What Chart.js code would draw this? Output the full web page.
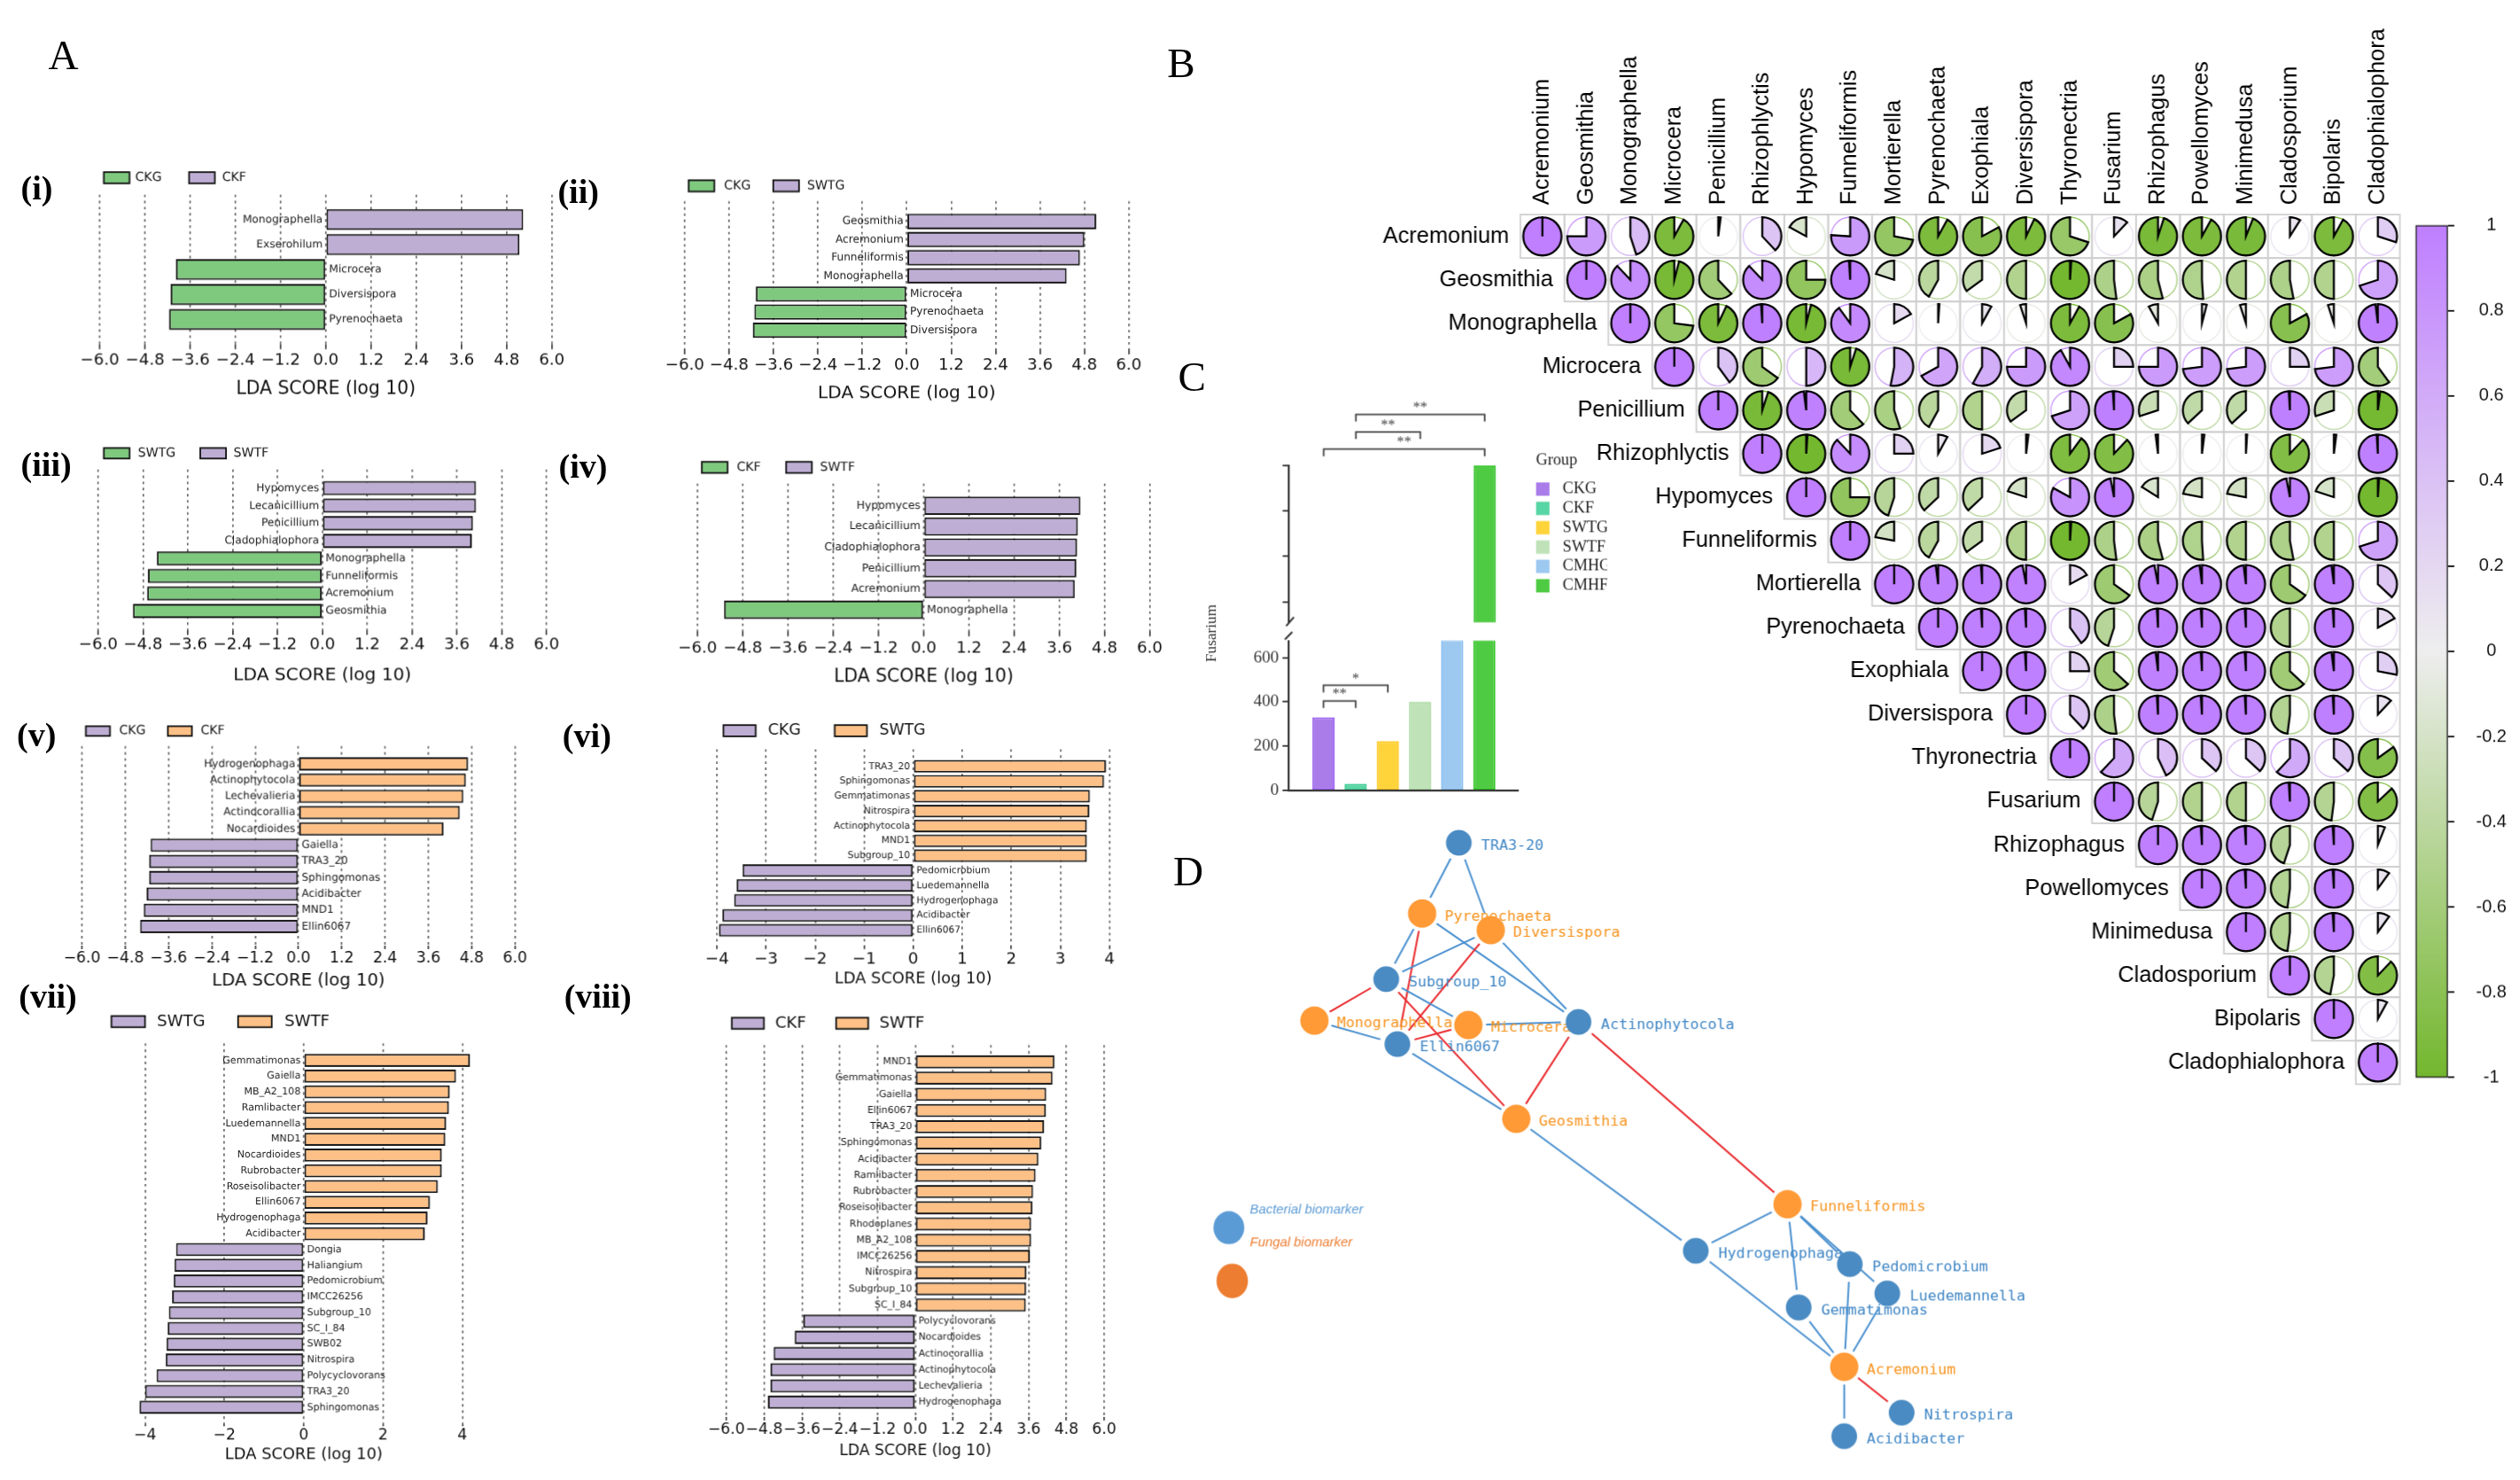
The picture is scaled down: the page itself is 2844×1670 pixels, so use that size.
<!DOCTYPE html>
<html>
<head>
<meta charset="utf-8">
<title>Biomarkers figure</title>
<script src="https://cdn.jsdelivr.net/npm/chart.js@4.4.1/dist/chart.umd.min.js"></script>
<style>
  html, body { margin: 0; padding: 0; background: #fff; overflow: hidden; }
  body { width: 2844px; height: 1670px; }
  #page { position: absolute; left: 0; top: 0; width: 1568px; height: 921px; transform-origin: 0 0; }
  .lbl { position: absolute; white-space: nowrap; line-height: 1; color: #000; font-family: 'Liberation Serif', serif; }
</style>
</head>
<body>
<div id="page"></div>
<script>
const SCALE = 2844 / 1568;

// ---------- A: LDA scores (negative = first group, positive = second group) ----------
const taxaA1 = ['Monographella', 'Exserohilum', 'Microcera', 'Diversispora', 'Pyrenochaeta'];
const scoreA1 = [5.24, 5.14, -3.98, -4.12, -4.16];
const groupA1 = ['CKG', 'CKF'];

const taxaA2 = ['Geosmithia', 'Acremonium', 'Funneliformis', 'Monographella', 'Microcera', 'Pyrenochaeta', 'Diversispora'];
const scoreA2 = [5.12, 4.80, 4.68, 4.32, -4.08, -4.12, -4.16];
const groupA2 = ['CKG', 'SWTG'];

const taxaA3 = ['Hypomyces', 'Lecanicillium', 'Penicillium', 'Cladophialophora', 'Monographella', 'Funneliformis', 'Acremonium', 'Geosmithia'];
const scoreA3 = [4.11, 4.11, 4.03, 4.00, -4.43, -4.67, -4.69, -5.07];
const groupA3 = ['SWTG', 'SWTF'];

const taxaA4 = ['Hypomyces', 'Lecanicillium', 'Cladophialophora', 'Penicillium', 'Acremonium', 'Monographella'];
const scoreA4 = [4.16, 4.09, 4.07, 4.05, 4.01, -5.30];
const groupA4 = ['CKF', 'SWTF'];

const taxaA5 = ['Hydrogenophaga', 'Actinophytocola', 'Lechevalieria', 'Actinocorallia', 'Nocardioides', 'Gaiella', 'TRA3_20', 'Sphingomonas', 'Acidibacter', 'MND1', 'Ellin6067'];
const scoreA5 = [4.70, 4.64, 4.57, 4.47, 4.02, -4.10, -4.14, -4.14, -4.21, -4.29, -4.39];
const groupA5 = ['CKG', 'CKF'];

const taxaA6 = ['TRA3_20', 'Sphingomonas', 'Gemmatimonas', 'Nitrospira', 'Actinophytocola', 'MND1', 'Subgroup_10', 'Pedomicrobium', 'Luedemannella', 'Hydrogenophaga', 'Acidibacter', 'Ellin6067'];
const scoreA6 = [3.93, 3.89, 3.60, 3.59, 3.54, 3.54, 3.54, -3.48, -3.60, -3.65, -3.89, -3.96];
const groupA6 = ['CKG', 'SWTG'];

const taxaA7 = ['Gemmatimonas', 'Gaiella', 'MB_A2_108', 'Ramlibacter', 'Luedemannella', 'MND1', 'Nocardioides', 'Rubrobacter', 'Roseisolibacter', 'Ellin6067', 'Hydrogenophaga', 'Acidibacter',
                'Dongia', 'Haliangium', 'Pedomicrobium', 'IMCC26256', 'Subgroup_10', 'SC_I_84', 'SWB02', 'Nitrospira', 'Polycyclovorans', 'TRA3_20', 'Sphingomonas'];
const scoreA7 = [4.19, 3.84, 3.68, 3.66, 3.59, 3.57, 3.48, 3.48, 3.38, 3.18, 3.12, 3.05,
                 -3.22, -3.26, -3.28, -3.32, -3.40, -3.43, -3.46, -3.48, -3.71, -4.00, -4.14];
const groupA7 = ['SWTG', 'SWTF'];

const taxaA8 = ['MND1', 'Gemmatimonas', 'Gaiella', 'Ellin6067', 'TRA3_20', 'Sphingomonas', 'Acidibacter', 'Ramlibacter', 'Rubrobacter', 'Roseisolibacter', 'Rhodoplanes', 'MB_A2_108',
                'IMCC26256', 'Nitrospira', 'Subgroup_10', 'SC_I_84', 'Polycyclovorans', 'Nocardioides', 'Actinocorallia', 'Actinophytocola', 'Lechevalieria', 'Hydrogenophaga'];
const scoreA8 = [4.42, 4.36, 4.16, 4.15, 4.09, 4.00, 3.91, 3.82, 3.74, 3.72, 3.68, 3.68,
                 3.64, 3.53, 3.52, 3.51, -3.56, -3.83, -4.50, -4.60, -4.60, -4.68];
const groupA8 = ['CKF', 'SWTF'];

const ticksA = [-6, -4.8, -3.6, -2.4, -1.2, 0, 1.2, 2.4, 3.6, 4.8, 6];
const ticksA6 = [-4, -3, -2, -1, 0, 1, 2, 3, 4];
const ticksA7 = [-4, -2, 0, 2, 4];

// ---------- B: correlation matrix (upper triangle, row by row from the diagonal) ----------
const corrTaxa = ['Acremonium', 'Geosmithia', 'Monographella', 'Microcera', 'Penicillium', 'Rhizophlyctis', 'Hypomyces', 'Funneliformis', 'Mortierella', 'Pyrenochaeta',
                  'Exophiala', 'Diversispora', 'Thyronectria', 'Fusarium', 'Rhizophagus', 'Powellomyces', 'Minimedusa', 'Cladosporium', 'Bipolaris', 'Cladophialophora'];
const corrRows = [
  [1, 0.75, 0.45, -0.92, 0.02, 0.38, -0.17, 0.76, -0.72, -0.92, -0.83, -0.93, -0.70, 0.12, -0.95, -0.92, -0.94, 0.09, -0.92, 0.30],
  [1, 0.88, -0.96, -0.62, 0.88, -0.75, 0.99, -0.20, -0.42, -0.35, -0.50, -0.99, -0.52, -0.54, -0.51, -0.50, -0.53, -0.50, 0.70],
  [1, -0.73, -0.93, 0.99, -0.96, 0.90, 0.17, 0.01, 0.08, -0.05, -0.92, -0.83, -0.08, 0.04, -0.05, -0.83, -0.05, 0.98],
  [1, 0.40, -0.65, 0.50, -0.95, 0.53, 0.67, 0.58, 0.75, 0.92, 0.25, 0.75, 0.73, 0.73, 0.25, 0.73, -0.60],
  [1, -0.95, 0.98, -0.62, -0.55, -0.42, -0.50, -0.35, 0.70, 0.99, -0.30, -0.37, -0.37, 0.99, -0.30, -0.98],
  [1, -0.99, 0.88, 0.25, 0.08, 0.20, 0.02, -0.90, -0.88, -0.02, 0.02, 0.01, -0.88, 0.02, 0.99],
  [1, -0.75, -0.45, -0.37, -0.37, -0.20, 0.83, 0.97, -0.16, -0.22, -0.22, 0.97, -0.20, -0.99],
  [1, -0.22, -0.42, -0.35, -0.50, -0.99, -0.52, -0.54, -0.51, -0.50, -0.53, -0.50, 0.70],
  [1, 0.98, 0.99, 0.97, 0.17, -0.65, 0.97, 0.98, 0.98, -0.65, 0.98, 0.37],
  [1, 0.99, 0.99, 0.40, -0.45, 0.99, 0.99, 0.99, -0.50, 0.99, 0.17],
  [1, 0.99, 0.25, -0.63, 0.98, 0.99, 0.99, -0.63, 0.98, 0.28],
  [1, 0.38, -0.52, 0.99, 0.99, 0.99, -0.48, 0.99, 0.12],
  [1, 0.62, 0.43, 0.37, 0.37, 0.62, 0.37, -0.85],
  [1, -0.45, -0.50, -0.50, 0.99, -0.48, -0.87],
  [1, 0.99, 0.99, -0.45, 0.99, 0.06],
  [1, 0.99, -0.48, 0.99, 0.10],
  [1, -0.48, 0.99, 0.10],
  [1, -0.47, -0.88],
  [1, 0.08],
  [1]
];
const colorbarTicks = [-1, -0.8, -0.6, -0.4, -0.2, 0, 0.2, 0.4, 0.6, 0.8, 1];

// ---------- C: Fusarium abundance (broken axis) ----------
const fusGroups = ['CKG', 'CKF', 'SWTG', 'SWTF', 'CMHG', 'CMHF'];
const fusValues = [330, 30, 223, 400, 680, 3500];
const fusTicksLow = [0, 200, 400, 600];
const fusTicksHigh = [1100, 1900, 2700, 3500];
const fusSigPairs = [[0, 1], [0, 2], [0, 4], [0, 5], [1, 3], [1, 5]];
const fusSigMarks = ['**', '*', '*', '**', '**', '**'];
const fusSigLevel = [404, 475, 1020, 3790, 4092, 4400];

// ---------- D: co-occurrence network ----------
const netNames = ['TRA3-20', 'Pyrenochaeta', 'Diversispora', 'Subgroup_10', 'Monographella', 'Microcera', 'Ellin6067', 'Actinophytocola', 'Geosmithia',
                  'Funneliformis', 'Hydrogenophaga', 'Pedomicrobium', 'Luedemannella', 'Gemmatimonas', 'Acremonium', 'Nitrospira', 'Acidibacter'];
const netFungal = [0, 1, 1, 0, 1, 1, 0, 0, 1, 1, 0, 0, 0, 0, 1, 0, 0];
const netX = [31.0, 26.4, 35.0, 21.9, 12.9, 32.2, 23.3, 46.0, 38.2, 72.2, 60.7, 80.0, 84.7, 73.6, 79.3, 86.5, 79.3];
const netY = [3.6, 14.7, 17.3, 25.0, 31.5, 32.2, 35.2, 31.7, 46.9, 60.3, 67.6, 69.7, 74.3, 76.5, 85.8, 93.0, 96.7];
const netEdges = [
  ['TRA3-20', 'Pyrenochaeta', 1], ['TRA3-20', 'Diversispora', 1],
  ['Pyrenochaeta', 'Subgroup_10', 1], ['Pyrenochaeta', 'Ellin6067', -1], ['Pyrenochaeta', 'Actinophytocola', 1],
  ['Diversispora', 'Subgroup_10', 1], ['Diversispora', 'Ellin6067', -1], ['Diversispora', 'Actinophytocola', 1],
  ['Subgroup_10', 'Monographella', -1], ['Subgroup_10', 'Microcera', 1], ['Subgroup_10', 'Geosmithia', -1],
  ['Monographella', 'Ellin6067', 1], ['Microcera', 'Ellin6067', -1], ['Microcera', 'Actinophytocola', 1],
  ['Ellin6067', 'Geosmithia', 1], ['Actinophytocola', 'Geosmithia', -1], ['Actinophytocola', 'Funneliformis', -1],
  ['Geosmithia', 'Hydrogenophaga', 1], ['Funneliformis', 'Hydrogenophaga', 1], ['Funneliformis', 'Gemmatimonas', 1],
  ['Funneliformis', 'Pedomicrobium', 1], ['Funneliformis', 'Luedemannella', 1],
  ['Hydrogenophaga', 'Acremonium', 1], ['Gemmatimonas', 'Acremonium', 1], ['Pedomicrobium', 'Acremonium', 1],
  ['Luedemannella', 'Acremonium', 1], ['Acremonium', 'Nitrospira', -1], ['Acremonium', 'Acidibacter', 1]
];

// ---------- styles ----------
const GREEN = '#7FC97F', PURPLE = '#BEAED4', ORANGE = '#FDC086';
const PIE_POS = [191, 127, 255], PIE_MID = [238, 238, 238], PIE_NEG = [115, 183, 46];
const FUS_FILL = ['#A97CE9', '#58D5A4', '#FFD33A', '#BFE2B8', '#9DC8F0', '#4FCB43'];
const FUS_LINE = ['#9A5FF0', '#3CCB92', '#FFC61A', '#B0DCA6', '#88BEF0', '#25BF1A'];

Chart.defaults.animation = false;
Chart.defaults.font.family = "'DejaVu Sans', sans-serif";
Chart.defaults.color = '#000';
Chart.defaults.plugins.legend.display = false;
Chart.defaults.plugins.tooltip.enabled = false;
Chart.defaults.events = [];

const page = document.getElementById('page');
page.style.transform = `scale(${SCALE})`;

function box(x, y, w, h) {
  const d = document.createElement('div');
  d.style.cssText = `position:absolute;left:${x}px;top:${y}px;width:${w}px;height:${h}px`;
  const c = document.createElement('canvas');
  d.appendChild(c);
  page.appendChild(d);
  return c;
}

function text(str, x, y, css) {
  const d = document.createElement('div');
  d.className = 'lbl';
  d.textContent = str;
  d.style.left = x + 'px';
  d.style.top = y + 'px';
  d.style.cssText += css || '';
  page.appendChild(d);
  return d;
}

function fmtTick(v, dec) {
  const s = Math.abs(v).toFixed(dec);
  return (v < -1e-9 ? '\u2212' : '') + s;
}

// ---------- A panels ----------
const ldaPanels = [
  {taxa: taxaA1, score: scoreA1, group: groupA1, col: [GREEN, PURPLE], ticks: ticksA, min: -6, max: 6, dec: 1,
   area: [62, 121, 343, 214], pad: [1.0, 1.0], bar: 0.84, lab: 6.7, tick: 10, tickLen: 3, tickOff: 10, title: 11.2, titleOff: 28,
   leg: [64.5, 84, 117.5, 138, 107, 16, 7, 7.8], roman: '(i)', rx: 13, ry: 107},
  {taxa: taxaA2, score: scoreA2, group: groupA2, col: [GREEN, PURPLE], ticks: ticksA, min: -6, max: 6, dec: 1,
   area: [426, 125, 702, 217], pad: [1.12, 1.07], bar: 0.85, lab: 6.7, tick: 10, tickLen: 3, tickOff: 10, title: 11.1, titleOff: 27,
   leg: [428.4, 450.4, 481, 502, 112, 16, 7, 7.8], roman: '(ii)', rx: 347, ry: 109},
  {taxa: taxaA3, score: scoreA3, group: groupA3, col: [GREEN, PURPLE], ticks: ticksA, min: -6, max: 6, dec: 1,
   area: [61, 291.7, 339.5, 391.5], pad: [1.07, 1.09], bar: 0.81, lab: 6.7, tick: 10, tickLen: 3, tickOff: 9.5, title: 11.1, titleOff: 28.5,
   leg: [64.5, 85.6, 124.4, 145, 278.4, 16, 6.5, 7.8], roman: '(iii)', rx: 13, ry: 278.6},
  {taxa: taxaA4, score: scoreA4, group: groupA4, col: [GREEN, PURPLE], ticks: ticksA, min: -6, max: 6, dec: 1,
   area: [434, 300.6, 715, 393], pad: [1.07, 1.04], bar: 0.88, lab: 6.8, tick: 10, tickLen: 3, tickOff: 10.5, title: 11.2, titleOff: 28.7,
   leg: [436.6, 458.3, 489, 510, 287, 16, 7, 7.8], roman: '(iv)', rx: 347.6, ry: 280.2},
  {taxa: taxaA5, score: scoreA5, group: groupA5, col: [PURPLE, ORANGE], ticks: ticksA, min: -6, max: 6, dec: 1,
   area: [50.6, 464, 320, 588], pad: [1.09, 1.19], bar: 0.82, lab: 6.6, tick: 9.5, tickLen: 2, tickOff: 7.5, title: 10.8, titleOff: 22,
   leg: [53, 73.7, 104, 124.4, 451.7, 15, 6, 7.8], roman: '(v)', rx: 10.5, ry: 447.2},
  {taxa: taxaA6, score: scoreA6, group: groupA6, col: [PURPLE, ORANGE], ticks: ticksA6, min: -4, max: 4, dec: 0,
   area: [446, 466, 689.5, 588], pad: [1.15, 1.04], bar: 0.85, lab: 5.9, tick: 10, tickLen: 2, tickOff: 8.5, title: 9.8, titleOff: 21,
   leg: [450, 477.7, 519, 546.7, 451, 20, 7, 9.5], roman: '(vi)', rx: 350, ry: 447.6},
  {taxa: taxaA7, score: scoreA7, group: groupA7, col: [PURPLE, ORANGE], ticks: ticksA7, min: -4.3, max: 4.3, dec: 0,
   area: [82.6, 649, 295.4, 886], pad: [1.08, 1.1], bar: 0.83, lab: 6.1, tick: 9.5, tickLen: 1, tickOff: 6.6, title: 9.9, titleOff: 19,
   leg: [69, 97.5, 148, 177, 632, 21, 7, 10], roman: '(vii)', rx: 11.7, ry: 609.6},
  {taxa: taxaA8, score: scoreA8, group: groupA8, col: [PURPLE, ORANGE], ticks: ticksA, min: -6, max: 6, dec: 1,
   area: [451.6, 650, 687, 881], pad: [1.04, 0.93], bar: 0.81, lab: 6, tick: 9.5, tickLen: 2, tickOff: 8, title: 9.5, titleOff: 21,
   leg: [455, 482, 520, 547, 633, 20, 7, 10], roman: '(viii)', rx: 351, ry: 609.6}
];

function ldaPanel(p) {
  const [L, T, R, B] = p.area;
  const padL = 48, padR = 32, padT = 46;
  const axisH = p.titleOff + p.title * 0.6;
  const ox = L - padL, oy = T - padT;
  const cv = box(ox, oy, R - L + padL + padR, B - T + padT + axisH);
  const n = p.taxa.length;
  const tickPad = Math.max(0, p.tickOff - p.tickLen - p.tick * 0.6);

  const labelPlugin = {
    id: 'ldaLabels',
    afterDatasetsDraw(chart) {
      const {ctx, scales: {x, y}} = chart;
      const x0 = x.getPixelForValue(0);
      ctx.save();
      ctx.font = `${p.lab}px 'DejaVu Sans'`;
      ctx.fillStyle = '#1a1a1a';
      ctx.textBaseline = 'middle';
      p.taxa.forEach((t, i) => {
        const yy = y.getPixelForValue(i);
        if (p.score[i] >= 0) { ctx.textAlign = 'right'; ctx.fillText(t, x0 - 2, yy); }
        else { ctx.textAlign = 'left'; ctx.fillText(t, x0 + 2, yy); }
      });
      const [b1, t1, b2, t2, by, bw, bh, fs] = p.leg;
      ctx.font = `${fs}px 'DejaVu Sans'`;
      ctx.textAlign = 'left';
      [[b1, t1], [b2, t2]].forEach(([bx, tx], k) => {
        ctx.fillStyle = p.col[k];
        ctx.fillRect(bx - ox, by - oy, bw, bh);
        ctx.strokeStyle = '#111';
        ctx.lineWidth = 1;
        ctx.strokeRect(bx - ox, by - oy, bw, bh);
        ctx.fillStyle = '#111';
        ctx.fillText(p.group[k], tx - ox, by - oy + bh / 2);
      });
      ctx.restore();
    }
  };

  new Chart(cv, {
    type: 'bar',
    data: {
      datasets: [{
        label: p.group.join(' vs '),
        data: p.score.map((v, i) => ({x: v, y: i})),
        backgroundColor: p.score.map(v => v < 0 ? p.col[0] : p.col[1]),
        borderColor: '#1a1a1a',
        borderWidth: 1.1,
        borderSkipped: false,
        categoryPercentage: p.bar,
        barPercentage: 1
      }]
    },
    options: {
      indexAxis: 'y',
      responsive: true,
      maintainAspectRatio: false,
      devicePixelRatio: SCALE,
      layout: {padding: {left: padL, right: padR, top: padT, bottom: 0}},
      scales: {
        y: {
          type: 'linear', reverse: true, display: false, offset: false,
          min: -p.pad[0], max: n - 1 + p.pad[1],
          afterBuildTicks: s => { s.ticks = p.taxa.map((_, i) => ({value: i})); }
        },
        x: {
          type: 'linear', min: p.min, max: p.max, offset: false,
          afterBuildTicks: s => { s.ticks = p.ticks.map(v => ({value: v})); },
          afterFit: s => { s.height = axisH; },
          grid: {color: '#444', lineWidth: 0.75, tickLength: p.tickLen, tickColor: '#222', tickWidth: 0.8},
          border: {display: false, dash: [1.6, 2.2]},
          ticks: {autoSkip: false, maxRotation: 0, minRotation: 0, padding: tickPad, color: '#111',
                  font: {size: p.tick}, callback: v => fmtTick(v, p.dec)},
          title: {display: true, text: 'LDA SCORE (log 10)', color: '#111', font: {size: p.title}, padding: 0}
        }
      }
    },
    plugins: [labelPlugin]
  });

  text(p.roman, p.rx, p.ry, 'font-size:21px;font-weight:bold;');
}

ldaPanels.forEach(ldaPanel);

// ---------- B: pie correlation matrix ----------
function corrColor(v) {
  const t = Math.min(1, Math.abs(v));
  const end = v >= 0 ? PIE_POS : PIE_NEG;
  const c = PIE_MID.map((m, k) => Math.round(m + (end[k] - m) * t));
  return `rgb(${c[0]},${c[1]},${c[2]})`;
}

const corrPoints = [];
corrRows.forEach((row, i) => row.forEach((v, k) => corrPoints.push({x: i + k, y: i, v: v})));

const piePlugin = {
  id: 'corrPies',
  afterDatasetsDraw(chart) {
    const {ctx, scales: {x, y}} = chart;
    const pts = chart.data.datasets[0].data;
    const cw = x.getPixelForValue(1) - x.getPixelForValue(0);
    const ch = y.getPixelForValue(1) - y.getPixelForValue(0);
    const r = Math.min(cw, ch) * 0.44;
    ctx.save();
    ctx.strokeStyle = '#CFCFCF';
    ctx.lineWidth = 1;
    pts.forEach(p => {
      ctx.strokeRect(x.getPixelForValue(p.x) - cw / 2, y.getPixelForValue(p.y) - ch / 2, cw, ch);
    });
    pts.forEach(p => {
      const px = x.getPixelForValue(p.x), py = y.getPixelForValue(p.y);
      const col = corrColor(p.v);
      ctx.beginPath();
      ctx.arc(px, py, r, 0, Math.PI * 2);
      ctx.strokeStyle = col;
      ctx.lineWidth = 0.8;
      ctx.stroke();
      const a0 = -Math.PI / 2, span = Math.PI * 2 * Math.min(1, Math.abs(p.v));
      ctx.beginPath();
      ctx.moveTo(px, py);
      if (p.v >= 0) ctx.arc(px, py, r, a0, a0 + span, false);
      else ctx.arc(px, py, r, a0, a0 - span, true);
      ctx.closePath();
      ctx.fillStyle = col;
      ctx.fill();
      ctx.strokeStyle = '#000';
      ctx.lineWidth = 1.25;
      ctx.stroke();
    });
    ctx.fillStyle = '#000';
    ctx.font = "14px 'Liberation Sans'";
    ctx.textBaseline = 'middle';
    ctx.textAlign = 'right';
    corrTaxa.forEach((t, i) => ctx.fillText(t, x.getPixelForValue(i) - cw / 2 - 7, y.getPixelForValue(i)));
    ctx.textAlign = 'left';
    const yTop = y.getPixelForValue(0) - ch / 2 - 6;
    corrTaxa.forEach((t, j) => {
      ctx.save();
      ctx.translate(x.getPixelForValue(j), yTop);
      ctx.rotate(-Math.PI / 2);
      ctx.fillText(t, 0, 0);
      ctx.restore();
    });
    ctx.restore();
  }
};

new Chart(box(845, 0, 655, 682), {
  type: 'scatter',
  data: {datasets: [{label: 'r', data: corrPoints, pointRadius: 0}]},
  options: {
    responsive: true, maintainAspectRatio: false, devicePixelRatio: SCALE,
    layout: {padding: {left: 101, right: 6.8, top: 133.5, bottom: 7.5}},
    scales: {
      x: {type: 'linear', min: -0.5, max: corrTaxa.length - 0.5, display: false},
      y: {type: 'linear', min: -0.5, max: corrTaxa.length - 0.5, reverse: true, display: false}
    }
  },
  plugins: [piePlugin]
});

// colour bar
new Chart(box(1495, 120, 73, 570), {
  type: 'bar',
  data: {
    labels: [''],
    datasets: [{
      data: [[-1, 1]],
      backgroundColor: c => {
        const ca = c.chart.chartArea;
        if (!ca) return '#ddd';
        const g = c.chart.ctx.createLinearGradient(0, ca.top, 0, ca.bottom);
        g.addColorStop(0, corrColor(1));
        g.addColorStop(0.5, corrColor(0));
        g.addColorStop(1, corrColor(-1));
        return g;
      },
      borderColor: '#111', borderWidth: 1, borderSkipped: false,
      barPercentage: 1, categoryPercentage: 1
    }]
  },
  options: {
    responsive: true, maintainAspectRatio: false, devicePixelRatio: SCALE,
    layout: {padding: {left: 8, right: 0, top: 13.5, bottom: 15.6}},
    scales: {
      x: {display: false},
      y: {
        position: 'right', min: -1, max: 1,
        afterBuildTicks: s => { s.ticks = colorbarTicks.map(v => ({value: v})); },
        afterFit: s => { s.width = 45; },
        grid: {drawOnChartArea: false, drawTicks: true, tickLength: 4, tickColor: '#111', tickWidth: 1},
        border: {display: false},
        ticks: {padding: 13.5, crossAlign: 'center', color: '#111',
                font: {family: "'Liberation Sans'", size: 11},
                callback: v => String(Math.round(v * 10) / 10)}
      }
    }
  }
});

// ---------- C: Fusarium bars with broken axis ----------
const fusPoints = fusValues.map((v, i) => ({x: i, y: v}));

function fusBrackets(lower) {
  return {
    id: 'fusBrackets',
    afterDatasetsDraw(chart) {
      const {ctx, scales: {x, y}} = chart;
      ctx.save();
      ctx.strokeStyle = '#444';
      ctx.lineWidth = 1;
      ctx.fillStyle = '#444';
      ctx.font = "9px 'Liberation Serif'";
      ctx.textAlign = 'center';
      ctx.textBaseline = 'middle';
      fusSigPairs.forEach((pr, k) => {
        const inLower = fusSigLevel[k] <= y.max;
        if (inLower !== lower) return;
        const yy = y.getPixelForValue(fusSigLevel[k]);
        const x1 = x.getPixelForValue(pr[0]), x2 = x.getPixelForValue(pr[1]);
        ctx.beginPath();
        ctx.moveTo(x1, yy + 4.4);
        ctx.lineTo(x1, yy);
        ctx.lineTo(x2, yy);
        ctx.lineTo(x2, yy + 4.4);
        ctx.stroke();
        ctx.fillText(fusSigMarks[k], (x1 + x2) / 2, yy - 4);
      });
      if (!lower) {
        // axis break marks
        const ax = chart.chartArea.left, bot = chart.chartArea.bottom;
        ctx.strokeStyle = '#333';
        ctx.lineWidth = 1.1;
        ctx.beginPath();
        ctx.moveTo(ax - 1.8, bot + 2.3); ctx.lineTo(ax + 3, bot - 3.2);
        ctx.moveTo(ax - 2.6, bot + 10.7); ctx.lineTo(ax + 2, bot + 6);
        ctx.stroke();
        // group legend
        const ox = 740, oy = 240;
        ctx.fillStyle = '#222';
        ctx.textAlign = 'left';
        ctx.font = "10px 'Liberation Serif'";
        ctx.fillText('Group', 955.5 - ox, 286.7 - oy);
        fusGroups.forEach((g, i) => {
          const cy = 304.2 + i * 12.02 - oy;
          ctx.fillStyle = FUS_FILL[i];
          ctx.fillRect(955.5 - ox, cy - 4.15, 8.3, 8.3);
          ctx.fillStyle = '#222';
          ctx.fillText(g, 972 - ox, cy);
        });
      }
      ctx.restore();
    }
  };
}

function fusChart(lower) {
  const cv = lower ? box(740, 390, 220, 110) : box(740, 240, 260, 160);
  new Chart(cv, {
    type: 'bar',
    data: {
      datasets: [{
        label: 'Fusarium',
        data: fusPoints,
        backgroundColor: FUS_FILL,
        borderColor: FUS_LINE,
        borderWidth: 1,
        borderSkipped: false,
        categoryPercentage: 0.69,
        barPercentage: 1
      }]
    },
    options: {
      responsive: true, maintainAspectRatio: false, devicePixelRatio: SCALE,
      layout: {padding: lower ? {left: 0, right: 15.4, top: 5, bottom: 4.6} : {left: 0, right: 55.4, top: 49.6, bottom: 12}},
      scales: {
        x: {
          type: 'linear', min: -1.074, max: 6.05, display: lower, offset: false,
          afterBuildTicks: s => { s.ticks = fusGroups.map((_, i) => ({value: i})); },
          afterFit: s => { s.height = 1; },
          ticks: {display: false},
          grid: {display: true, drawOnChartArea: false, drawTicks: false, offset: false},
          border: {display: true, color: '#333', width: 1.2}
        },
        y: {
          min: lower ? 0 : 740, max: lower ? 676 : 3500,
          afterBuildTicks: s => { s.ticks = (lower ? fusTicksLow : fusTicksHigh).map(v => ({value: v})); },
          afterFit: s => { s.width = 62; },
          grid: {drawOnChartArea: false, drawTicks: true, tickLength: 4, tickColor: '#333', tickWidth: 1},
          border: {display: true, color: '#333', width: 1.2},
          ticks: {display: lower, padding: 2.3, color: '#333', font: {family: "'Liberation Serif'", size: 10.5}}
        }
      }
    },
    plugins: [fusBrackets(lower)]
  });
}
fusChart(false);
fusChart(true);
text('Fusarium', 753.5, 394, "font-size:9.5px;color:#333;transform:translate(-50%,-50%) rotate(-90deg);");

// ---------- D: network ----------
const netPlugin = {
  id: 'netDraw',
  beforeDatasetsDraw(chart) {
    const {ctx, scales: {x, y}} = chart;
    const pos = name => {
      const i = netNames.indexOf(name);
      return [x.getPixelForValue(netX[i]), y.getPixelForValue(netY[i])];
    };
    ctx.save();
    ctx.lineWidth = 1.1;
    netEdges.forEach(([a, b, s]) => {
      const [x1, y1] = pos(a), [x2, y2] = pos(b);
      const d = Math.hypot(x2 - x1, y2 - y1), cut = 11;
      const ux = (x2 - x1) / d, uy = (y2 - y1) / d;
      ctx.strokeStyle = s > 0 ? '#4A90CF' : '#E8262A';
      ctx.beginPath();
      ctx.moveTo(x1 + ux * cut, y1 + uy * cut);
      ctx.lineTo(x2 - ux * cut, y2 - uy * cut);
      ctx.stroke();
    });
    ctx.font = "9.2px 'DejaVu Sans Mono'";
    ctx.textAlign = 'left';
    ctx.textBaseline = 'middle';
    netNames.forEach((nm, i) => {
      ctx.fillStyle = netFungal[i] ? '#F7931E' : '#3F86C5';
      ctx.fillText(nm, x.getPixelForValue(netX[i]) + 14, y.getPixelForValue(netY[i]) + 2);
    });
    ctx.restore();
  },
  afterDatasetsDraw(chart) {
    const {ctx} = chart;
    const ox = 745, oy = 500;
    ctx.save();
    ctx.fillStyle = '#5B9BD5';
    ctx.beginPath(); ctx.ellipse(764.6 - ox, 763.5 - oy, 9.6, 10.3, 0, 0, Math.PI * 2); ctx.fill();
    ctx.fillStyle = '#ED7D31';
    ctx.beginPath(); ctx.ellipse(766.7 - ox, 796.6 - oy, 9.8, 10.8, 0, 0, Math.PI * 2); ctx.fill();
    ctx.font = "italic 8.2px 'Liberation Sans'";
    ctx.textAlign = 'left';
    ctx.textBaseline = 'middle';
    ctx.fillStyle = '#5B9BD5';
    ctx.fillText('Bacterial biomarker', 777.7 - ox, 752.6 - oy);
    ctx.fillStyle = '#ED7D31';
    ctx.fillText('Fungal biomarker', 777.7 - ox, 773.1 - oy);
    ctx.restore();
  }
};

new Chart(box(745, 500, 545, 415), {
  type: 'scatter',
  data: {
    datasets: [{
      label: 'nodes',
      data: netNames.map((_, i) => ({x: netX[i], y: netY[i]})),
      pointBackgroundColor: netFungal.map(f => f ? '#FF9A36' : '#4A8BC3'),
      pointBorderWidth: 0,
      pointRadius: netFungal.map(f => f ? 8.8 : 8)
    }]
  },
  options: {
    responsive: true, maintainAspectRatio: false, devicePixelRatio: SCALE,
    layout: {padding: {left: 5, right: 40, top: 10, bottom: 5}},
    scales: {
      x: {type: 'linear', min: 0, max: 100, display: false},
      y: {type: 'linear', min: 0, max: 100, reverse: true, display: false}
    }
  },
  plugins: [netPlugin]
});

// ---------- panel letters ----------
text('A', 30, 21.8, 'font-size:26px;');
text('B', 726.3, 26.8, 'font-size:26px;');
text('C', 733, 222.3, 'font-size:26px;');
text('D', 730, 530.3, 'font-size:26px;');
</script>
</body>
</html>
